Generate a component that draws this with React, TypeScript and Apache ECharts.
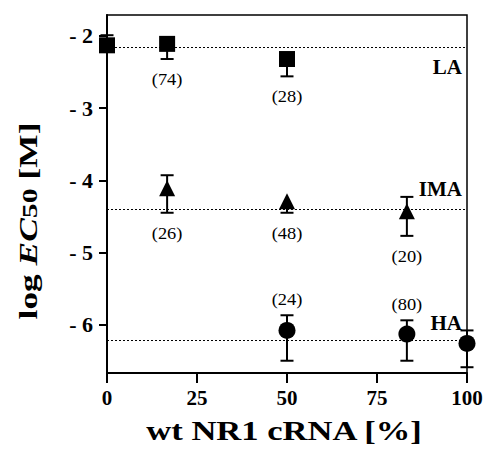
import React, { useEffect, useRef } from 'react';
import * as echarts from 'echarts';

const xTicks = [0, 25, 50, 75, 100];
const yTicks = [-6, -5, -4, -3, -2];

// null = upper error arm hidden behind the marker in the reference
const laX = [0, 16.7, 50];
const laY = [-2.13, -2.11, -2.32];
const laLo = [-2.2, -2.32, -2.56];
const laHi: (number | null)[] = [-1.99, -2.03, -2.25];
const laN = ['', '(74)', '(28)'];
const laRef = -2.15;

const imaX = [16.7, 50, 83.3];
const imaY = [-4.11, -4.29, -4.43];
const imaLo = [-4.45, -4.45, -4.77];
const imaHi: (number | null)[] = [-3.93, null, -4.23];
const imaN = ['(26)', '(48)', '(20)'];
const imaRef = -4.4;

const haX = [50, 83.3, 100];
const haY = [-6.08, -6.13, -6.26];
const haLo = [-6.5, -6.5, -6.59];
const haHi: (number | null)[] = [-5.87, -5.94, -6.08];
const haN = ['(24)', '(80)', ''];
const haRef = -6.21;

const xAxisTitle = 'wt NR1 cRNA [%]';
const yAxisTitle = '{t|log }{i|EC}{s|50}{t| [M]}';

const SERIF = '"Liberation Serif", "Times New Roman", serif';

function errorSeries(xs: number[], ys: number[], lo: number[], hi: (number | null)[], ns: string[], side: 'below' | 'above') {
  return {
    type: 'custom',
    clip: false,
    z: 1,
    silent: true,
    data: xs.map((x, i) => [x, lo[i], hi[i] == null ? ys[i] : hi[i], ys[i]]),
    encode: { x: 0, y: [1, 2] },
    renderItem: (params: any, api: any) => {
      const x = api.value(0);
      const pLo = api.coord([x, api.value(1)]);
      const pHi = api.coord([x, api.value(2)]);
      const hasHi = hi[params.dataIndex] != null;
      const hw = 6.5;
      const st = { stroke: '#000', lineWidth: 2 };
      const children: any[] = [
        { type: 'line', shape: { x1: pLo[0], y1: pLo[1], x2: pHi[0], y2: pHi[1] }, style: st },
        { type: 'line', shape: { x1: pLo[0] - hw, y1: pLo[1], x2: pLo[0] + hw, y2: pLo[1] }, style: st },
      ];
      if (hasHi) {
        children.push({ type: 'line', shape: { x1: pHi[0] - hw, y1: pHi[1], x2: pHi[0] + hw, y2: pHi[1] }, style: st });
      }
      const n = ns[params.dataIndex];
      if (n) {
        children.push({
          type: 'text',
          x: pLo[0],
          y: side === 'below' ? pLo[1] + 21 : pHi[1] - 15,
          scaleX: 1.15,
          style: {
            text: n,
            x: 0,
            y: 0,
            align: 'center',
            verticalAlign: 'middle',
            textAlign: 'center',
            textVerticalAlign: 'middle',
            fontSize: 16,
            fontFamily: SERIF,
            fill: '#000',
          },
        });
      }
      return { type: 'group', children };
    },
  };
}

function pointSeries(xs: number[], ys: number[], symbol: string, size: number, ref: number, name: string, pos: string, dist: number) {
  return {
    type: 'scatter',
    clip: false,
    z: 3,
    symbol,
    symbolSize: size,
    itemStyle: { color: '#000', opacity: 1 },
    data: xs.map((x, i) => [x, ys[i]]),
    markLine: {
      silent: true,
      symbol: 'none',
      z: 0,
      lineStyle: { type: [2, 2], color: '#000', width: 1 },
      data: [{ yAxis: ref }],
      label: {
        show: true,
        position: pos,
        formatter: name,
        fontFamily: SERIF,
        fontWeight: 'bold',
        fontSize: 21,
        color: '#000',
        distance: [5, dist],
      },
    },
  };
}

export default function App() {
  const ref = useRef<HTMLDivElement>(null);
  useEffect(() => {
    const chart = echarts.init(ref.current!, null, { renderer: 'svg' });
    chart.setOption({
      animation: false,
      backgroundColor: '#fff',
      grid: {
        left: 107,
        right: 21,
        top: 15,
        bottom: 84,
        outerBoundsMode: 'none',
        containLabel: false,
        show: true,
        borderColor: '#000',
        borderWidth: 1.5,
        backgroundColor: 'transparent',
      },
      graphic: [
        {
          type: 'text',
          x: 284,
          y: 431,
          scaleX: 1.28,
          silent: true,
          style: {
            text: xAxisTitle,
            align: 'center',
            verticalAlign: 'middle',
            fontFamily: SERIF,
            fontWeight: 'bold',
            fontSize: 27,
            fill: '#000',
          },
        },
        {
          type: 'text',
          x: 28,
          y: 221,
          rotation: Math.PI / 2,
          scaleX: 1.36,
          silent: true,
          style: {
            text: yAxisTitle,
            align: 'center',
            verticalAlign: 'middle',
            fontFamily: SERIF,
            fontWeight: 'bold',
            fontSize: 26,
            fill: '#000',
            rich: {
              t: { fontFamily: SERIF, fontWeight: 'bold', fontSize: 26, fill: '#000' },
              i: { fontFamily: SERIF, fontWeight: 'bold', fontStyle: 'italic', fontSize: 26, fill: '#000' },
              s: { fontFamily: SERIF, fontWeight: 'bold', fontSize: 22, fill: '#000', verticalAlign: 'bottom' },
            },
          },
        },
      ],
      xAxis: {
        type: 'value',
        min: 0,
        max: 100,
        interval: 25,
        splitLine: { show: false },
        axisLine: { lineStyle: { color: '#000', width: 2 } },
        axisTick: { length: 10, lineStyle: { color: '#000', width: 2 } },
        axisLabel: { margin: 14, fontFamily: SERIF, fontWeight: 'bold', fontSize: 21, color: '#000' },
      },
      yAxis: {
        type: 'value',
        min: -6.67,
        max: -1.71,
        splitLine: { show: false },
        axisLine: { lineStyle: { color: '#000', width: 2 } },
        axisTick: { length: 8, customValues: yTicks, lineStyle: { color: '#000', width: 2 } },
        axisLabel: {
          customValues: yTicks,
          margin: 14,
          fontFamily: SERIF,
          fontWeight: 'bold',
          fontSize: 22,
          color: '#000',
          formatter: (v: number) => '- ' + Math.abs(v),
        },
      },
      series: [
        errorSeries(laX, laY, laLo, laHi, laN, 'below'),
        errorSeries(imaX, imaY, imaLo, imaHi, imaN, 'below'),
        errorSeries(haX, haY, haLo, haHi, haN, 'above'),
        pointSeries(laX, laY, 'rect', 16, laRef, 'LA', 'insideEndBottom', 10),
        pointSeries(imaX, imaY, 'triangle', 16, imaRef, 'IMA', 'insideEndTop', 10),
        pointSeries(haX, haY, 'circle', 17, haRef, 'HA', 'insideEndTop', 6),
      ],
    });
    return () => chart.dispose();
  }, []);
  return <div ref={ref} style={{ position: 'absolute', left: 0, top: 0, width: 488, height: 457 }} />;
}
